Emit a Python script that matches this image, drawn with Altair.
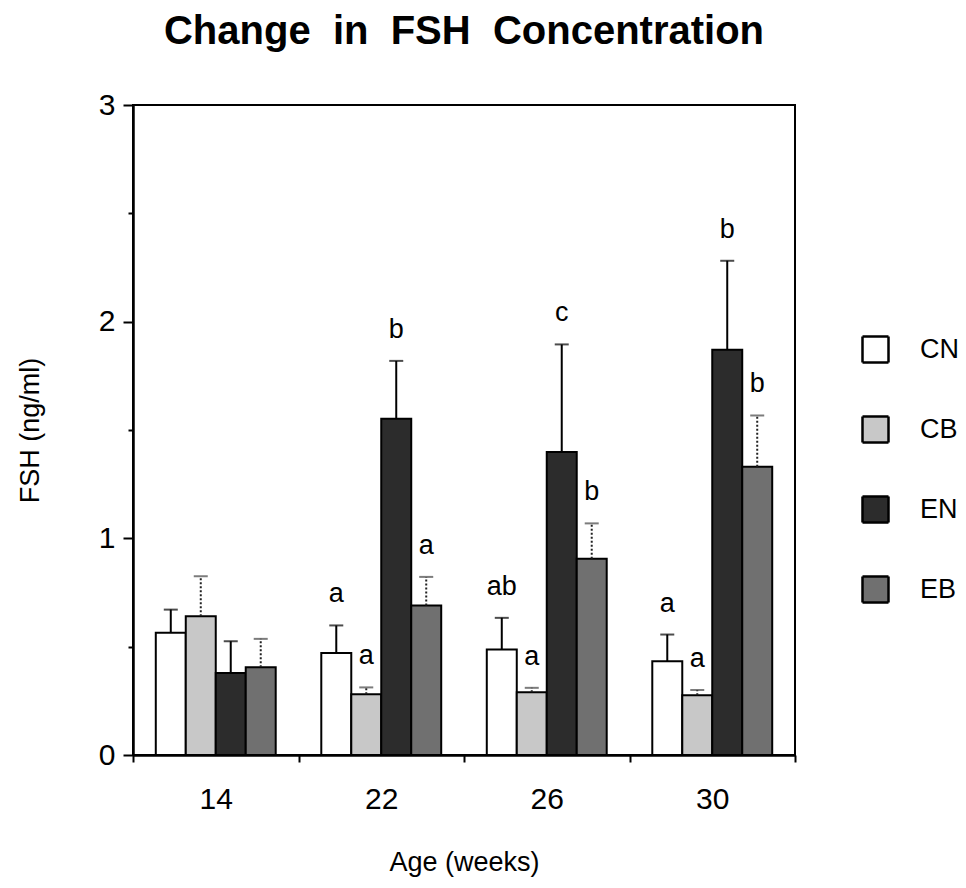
import altair as alt
import pandas as pd

# FSH concentration (ng/ml) by age and treatment group: mean and mean + SEM
ages = ["14", "22", "26", "30"]
groups = ["CN", "CB", "EN", "EB"]

mean_cn = [0.564, 0.471, 0.487, 0.433]
mean_cb = [0.640, 0.280, 0.290, 0.276]
mean_en = [0.379, 1.552, 1.398, 1.870]
mean_eb = [0.405, 0.690, 0.906, 1.330]

upper_cn = [0.671, 0.598, 0.633, 0.556]
upper_cb = [0.825, 0.312, 0.310, 0.300]
upper_en = [0.525, 1.819, 1.895, 2.281]
upper_eb = [0.536, 0.822, 1.069, 1.567]

# significance letters shown above each bar
letters_cn = ["", "a", "ab", "a"]
letters_cb = ["", "a", "a", "a"]
letters_en = ["", "b", "c", "b"]
letters_eb = ["", "a", "b", "b"]

fills = ["#ffffff", "#c8c8c8", "#2c2c2c", "#707070"]
FONT = "Liberation Sans"
NB = "\u00a0\u00a0"

rows = []
for g, means, uppers, letters in [
    ("CN", mean_cn, upper_cn, letters_cn),
    ("CB", mean_cb, upper_cb, letters_cb),
    ("EN", mean_en, upper_en, letters_en),
    ("EB", mean_eb, upper_eb, letters_eb),
]:
    for a, m, u, l in zip(ages, means, uppers, letters):
        rows.append({"age": a, "group": g, "mean": m, "upper": u, "letter": l})
df = pd.DataFrame(rows)

x_enc = alt.X(
    "age:N",
    sort=ages,
    scale=alt.Scale(paddingInner=0, paddingOuter=0),
    axis=alt.Axis(
        title="Age (weeks)",
        labelAngle=0,
        tickBand="extent",
        tickSize=7,
        labelPadding=22,
        titleX=331,
        titleY=107,
        titleBaseline="middle",
    ),
)
xoff_enc = alt.XOffset(
    "group:N", sort=groups, scale=alt.Scale(paddingInner=0, paddingOuter=0.76)
)
y_scale = alt.Scale(domain=[0, 3], nice=False, zero=True)

base = alt.Chart(df)
solid = base.transform_filter(alt.FieldOneOfPredicate(field="group", oneOf=["CN", "EN"]))
stippled = base.transform_filter(alt.FieldOneOfPredicate(field="group", oneOf=["CB", "EB"]))

bars = base.mark_bar(stroke="black", strokeWidth=2).encode(
    x=x_enc,
    xOffset=xoff_enc,
    y=alt.Y(
        "mean:Q",
        scale=y_scale,
        axis=alt.Axis(
            title="FSH (ng/ml)",
            values=[0, 0.5, 1, 1.5, 2, 2.5, 3],
            labelExpr="datum.value % 1 == 0 ? format(datum.value, 'd') : ''",
            tickSize={"condition": {"test": "datum.value % 1 != 0", "value": 5}, "value": 10},
            labelPadding=8,
            titleX=-103,
            titleY=325,
            titleAngle=-90,
            titleBaseline="middle",
            titleAlign="center",
        ),
    ),
    color=alt.Color(
        "group:N",
        sort=groups,
        scale=alt.Scale(domain=groups, range=fills),
        legend=alt.Legend(
            title=None,
            orient="none",
            legendX=728,
            legendY=230,
            symbolType="square",
            symbolSize=676,
            symbolStrokeColor="black",
            symbolStrokeWidth=2.5,
            symbolOpacity=1,
            symbolDash=[1, 0],
            labelFont=FONT,
            labelFontSize=27,
            labelColor="black",
            labelOffset=30,
            rowPadding=43,
            padding=0,
        ),
    ),
)


def whisker(src, dash, colour):
    return src.mark_rule(color=colour, strokeWidth=2, strokeDash=dash).encode(
        x=x_enc,
        xOffset=xoff_enc,
        y=alt.Y("mean:Q", scale=y_scale),
        y2="upper:Q",
    )


def cap(src, colour):
    return src.mark_tick(color=colour, thickness=2, size=14).encode(
        x=x_enc,
        xOffset=xoff_enc,
        y=alt.Y("upper:Q", scale=y_scale),
    )


labels = base.mark_text(
    dy=-31, fontSize=27, font=FONT, color="black", baseline="middle"
).encode(
    x=x_enc,
    xOffset=xoff_enc,
    y=alt.Y("upper:Q", scale=y_scale),
    text="letter:N",
)

chart = (
    alt.layer(
        bars,
        whisker(solid, [1, 0], "black"),
        whisker(stippled, [2, 2], "#222222"),
        cap(solid, "black"),
        cap(stippled, "#444444"),
        labels,
    )
    .properties(
        width=662,
        height=650,
        autosize="none",
        padding={"left": 133, "top": 105, "right": 171, "bottom": 133},
        title=alt.TitleParams(
            f"Change{NB}in{NB}FSH{NB}Concentration",
            font=FONT,
            fontSize=40,
            fontWeight="bold",
            color="black",
            anchor="middle",
            offset=38,
        ),
    )
    .configure_view(stroke="black", strokeWidth=2)
    .configure_axis(
        domainColor="black",
        domainWidth=2.5,
        tickColor="black",
        tickWidth=2,
        labelFont=FONT,
        labelFontSize=30,
        labelColor="black",
        titleFont=FONT,
        titleFontSize=27,
        titleFontWeight="normal",
        titleColor="black",
        grid=False,
    )
)

chart.save("out.html", embed_options={"renderer": "svg", "actions": False})
